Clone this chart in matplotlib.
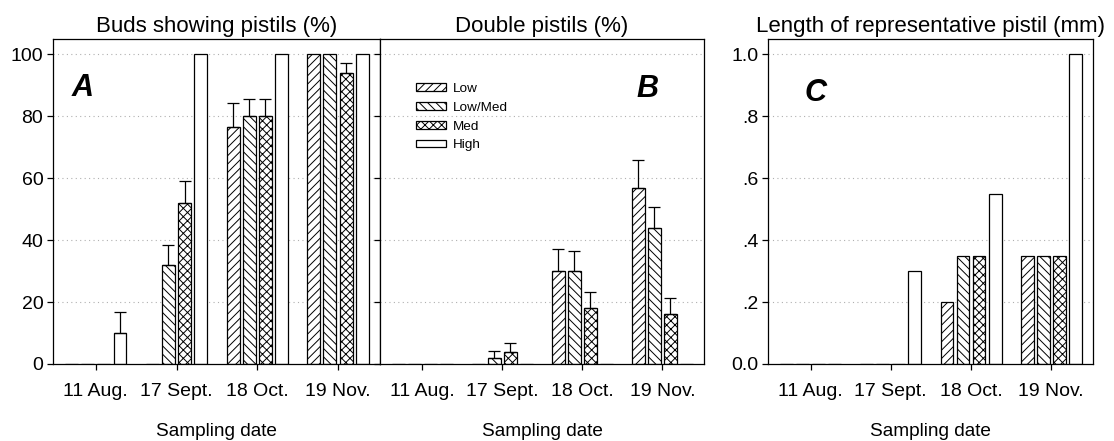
import matplotlib
matplotlib.use("Agg")
import matplotlib.pyplot as plt
import numpy as np
from matplotlib.patches import Patch

plt.rcParams['font.family'] = ['Liberation Sans', 'DejaVu Sans']
plt.rcParams['hatch.linewidth'] = 0.7

dates = ["11 Aug.", "17 Sept.", "18 Oct.", "19 Nov."]
series = ["Low", "Low/Med", "Med", "High"]
hatches = ["////", "\\\\\\\\", "xxxx", ""]

# Panel A: buds showing pistils (%)
a_low = [0, 0, 76.5, 100]
a_lowmed = [0, 32, 80, 100]
a_med = [0, 52, 80, 94]
a_high = [10, 100, 100, 100]
a_err_low = [0, 0, 7.8, 0]
a_err_lowmed = [0, 6.5, 5.7, 0]
a_err_med = [0, 7.0, 5.7, 3.3]
a_err_high = [6.7, 0, 0, 0]

# Panel B: double pistils (%)
b_low = [0, 0, 30, 57]
b_lowmed = [0, 2, 30, 44]
b_med = [0, 4, 18, 16]
b_high = [0, 0, 0, 0]
b_err_low = [0, 0, 7.1, 9.0]
b_err_lowmed = [0, 2.1, 6.6, 6.8]
b_err_med = [0, 2.8, 5.4, 5.2]
b_err_high = [0, 0, 0, 0]

# Panel C: length of representative pistil (mm)
c_low = [0, 0, 0.20, 0.35]
c_lowmed = [0, 0, 0.35, 0.35]
c_med = [0, 0, 0.35, 0.35]
c_high = [0, 0.30, 0.55, 1.00]

fig = plt.figure(figsize=(11.14, 4.41), dpi=100)
W, H = 1114, 441
def ax_at(x0, x1, y0=39, y1=364):
    return fig.add_axes([x0 / W, 1 - y1 / H, (x1 - x0) / W, (y1 - y0) / H])

axA = ax_at(53, 380)
axB = ax_at(380, 704)
axC = ax_at(768, 1093)

offsets = [-0.3, -0.1, 0.1, 0.3]
width = 0.16
x = np.arange(len(dates))

TICK_FS = 14
def draw(ax, vals, errs, ylim, yticks, yticklabels, title, letter, letter_pos):
    ax.set_xlim(-0.53, 3.52)
    ax.set_ylim(*ylim)
    for yt in yticks[1:]:
        ax.axhline(yt, color='#b0b0b0', lw=0.8, ls=(0, (1, 3)), zorder=0)
    for i, (v, h) in enumerate(zip(vals, hatches)):
        ax.bar(x + offsets[i], v, width, facecolor='white', edgecolor='black',
               hatch=h, lw=0.9, zorder=2)
        if errs is not None:
            e = np.array(errs[i], dtype=float)
            m = e > 0
            if m.any():
                ax.errorbar((x + offsets[i])[m], np.array(v)[m],
                            yerr=[np.zeros(m.sum()), e[m]], fmt='none',
                            ecolor='black', elinewidth=0.9, capsize=4,
                            capthick=0.9, zorder=3)
    ax.set_xticks(x)
    ax.set_xticklabels(dates, fontsize=TICK_FS)
    ax.set_yticks(yticks)
    if yticklabels is None:
        ax.set_yticklabels([])
    else:
        ax.set_yticklabels(yticklabels, fontsize=TICK_FS)
    ax.tick_params(direction='out', length=4, width=0.9)
    ax.tick_params(axis='x', pad=10)
    ax.tick_params(axis='y', pad=3)
    ax.set_xlabel("Sampling date", fontsize=13.7, labelpad=16)
    ax.set_title(title, fontsize=16, pad=5)
    for s in ax.spines.values():
        s.set_linewidth(0.9)
    ax.text(letter_pos[0], letter_pos[1], letter, transform=ax.transAxes,
            fontsize=22, fontweight='bold', fontstyle='italic', ha='center', va='center')

pctticks = [0, 20, 40, 60, 80, 100]
draw(axA, [a_low, a_lowmed, a_med, a_high],
     [a_err_low, a_err_lowmed, a_err_med, a_err_high],
     (0, 105), pctticks, [str(t) for t in pctticks],
     "Buds showing pistils (%)", "A", (0.09, 0.85))
draw(axB, [b_low, b_lowmed, b_med, b_high],
     [b_err_low, b_err_lowmed, b_err_med, b_err_high],
     (0, 105), pctticks, None,
     "Double pistils (%)", "B", (0.824, 0.845))
draw(axC, [c_low, c_lowmed, c_med, c_high], None,
     (0, 1.05), [0, 0.2, 0.4, 0.6, 0.8, 1.0],
     ["0.0", ".2", ".4", ".6", ".8", "1.0"],
     "Length of representative pistil (mm)", "C", (0.145, 0.835))

handles = [Patch(facecolor='white', edgecolor='black', hatch=h, lw=0.9) for h in hatches]
axB.legend(handles, series, loc='upper left', bbox_to_anchor=(0.095, 0.881),
           frameon=False, fontsize=9.7, handlelength=2.2, handleheight=0.5,
           labelspacing=0.5, handletextpad=0.5, borderaxespad=0)

fig.savefig("out.png", dpi=100)
